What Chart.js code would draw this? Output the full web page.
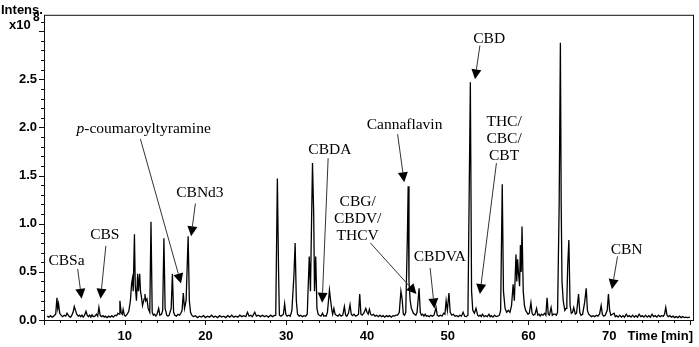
<!DOCTYPE html>
<html>
<head>
<meta charset="utf-8">
<script src="https://cdn.jsdelivr.net/npm/chart.js@4.4.1/dist/chart.umd.min.js"></script>
<style>
  body { margin: 0; background: #fff; }
  canvas { display: block; }
</style>
</head>
<body>
<canvas id="chart" width="699" height="347"></canvas>
<script>
// retention time [min]
const times = [
  0.4, 0.6, 0.8, 1.0, 1.2, 1.45, 1.6, 1.7, 1.8, 1.95,
  2.1, 2.3, 2.5, 2.7, 2.85, 3.0, 3.15, 3.3, 3.45, 3.6,
  3.75, 3.9, 4.05, 4.25, 4.4, 4.55, 4.7, 4.85, 5.0, 5.2,
  5.35, 5.5, 5.65, 5.8, 5.95, 6.1, 6.3, 6.5, 6.65, 6.8,
  6.95, 7.1, 7.3, 7.45, 7.6, 7.8, 8.0, 8.2, 8.4, 8.6,
  8.8, 9.0, 9.15, 9.3, 9.4, 9.55, 9.7, 9.8, 9.95, 10.1,
  10.3, 10.5, 10.7, 10.85, 10.95, 11.05, 11.2, 11.3, 11.45, 11.6,
  11.7, 11.85, 11.95, 12.05, 12.2, 12.4, 12.5, 12.6, 12.75, 12.9,
  13.1, 13.25, 13.4, 13.55, 13.7, 13.85, 14.0, 14.2, 14.35, 14.55,
  14.7, 14.85, 15.0, 15.2, 15.35, 15.5, 15.75, 15.9, 16.05, 16.2,
  16.4, 16.6, 16.8, 16.95, 17.1, 17.25, 17.4, 17.6, 17.85, 18.0,
  18.15, 18.3, 18.5, 18.75, 19.0, 19.25, 19.5, 19.75, 20.0, 20.25,
  20.5, 20.75, 21.0, 21.25, 21.5, 21.75, 22.0, 22.25, 22.5, 22.75,
  23.0, 23.25, 23.5, 23.75, 24.0, 24.25, 24.5, 24.75, 25.0, 25.2,
  25.4, 25.6, 25.8, 26.1, 26.3, 26.55, 26.8, 27.05, 27.3, 27.55,
  27.8, 28.05, 28.3, 28.5, 28.7, 28.9, 29.05, 29.15, 29.35, 29.5,
  29.65, 29.8, 29.95, 30.1, 30.3, 30.5, 30.7, 30.95, 31.1, 31.25,
  31.4, 31.6, 31.8, 32.0, 32.2, 32.4, 32.6, 32.85, 33.0, 33.25,
  33.4, 33.5, 33.65, 33.8, 33.95, 34.1, 34.3, 34.5, 34.65, 34.8,
  34.95, 35.1, 35.35, 35.5, 35.65, 35.75, 35.9, 36.05, 36.2, 36.4,
  36.6, 36.8, 37.0, 37.2, 37.35, 37.5, 37.7, 37.9, 38.05, 38.2,
  38.4, 38.6, 38.8, 38.95, 39.1, 39.25, 39.4, 39.6, 39.85, 40.0,
  40.15, 40.3, 40.45, 40.6, 40.8, 41.0, 41.2, 41.4, 41.6, 41.8,
  42.0, 42.2, 42.4, 42.6, 42.8, 43.0, 43.2, 43.4, 43.6, 43.8,
  44.0, 44.2, 44.35, 44.5, 44.65, 44.8, 45.0, 45.1, 45.2, 45.35,
  45.5, 45.6, 45.75, 45.9, 46.05, 46.2, 46.45, 46.6, 46.75, 46.9,
  47.05, 47.2, 47.35, 47.5, 47.7, 47.9, 48.1, 48.3, 48.55, 48.7,
  48.9, 49.1, 49.3, 49.5, 49.65, 49.8, 49.95, 50.15, 50.3, 50.5,
  50.7, 50.9, 51.1, 51.3, 51.5, 51.7, 51.9, 52.1, 52.3, 52.5,
  52.65, 52.8, 52.95, 53.1, 53.3, 53.5, 53.7, 53.85, 54.0, 54.15,
  54.3, 54.5, 54.7, 54.9, 55.1, 55.25, 55.4, 55.6, 55.8, 56.0,
  56.2, 56.4, 56.55, 56.75, 56.9, 57.1, 57.3, 57.5, 57.7, 57.9,
  58.1, 58.25, 58.45, 58.55, 58.65, 58.75, 58.9, 59.0, 59.1, 59.2,
  59.35, 59.5, 59.65, 59.8, 59.95, 60.1, 60.3, 60.45, 60.6, 60.8,
  61.0, 61.15, 61.3, 61.45, 61.6, 61.8, 62.0, 62.15, 62.3, 62.45,
  62.6, 62.8, 62.95, 63.1, 63.3, 63.45, 63.6, 63.8, 63.95, 64.05,
  64.15, 64.3, 64.5, 64.65, 64.75, 64.85, 65.0, 65.15, 65.3, 65.45,
  65.6, 65.8, 65.95, 66.05, 66.2, 66.35, 66.5, 66.7, 66.95, 67.15,
  67.3, 67.45, 67.6, 67.8, 68.0, 68.2, 68.4, 68.6, 68.8, 69.0,
  69.15, 69.3, 69.5, 69.75, 69.9, 70.05, 70.2, 70.4, 70.6, 70.75,
  70.9, 71.1, 71.3, 71.5, 71.7, 71.9, 72.1, 72.3, 72.5, 72.7,
  72.9, 73.1, 73.3, 73.5, 73.7, 73.9, 74.1, 74.3, 74.5, 74.7,
  74.9, 75.1, 75.3, 75.5, 75.7, 75.9, 76.1, 76.3, 76.5, 76.7,
  76.85, 77.0, 77.15, 77.3, 77.5, 77.7, 77.9, 78.1, 78.3, 78.5,
  78.7, 78.9, 79.1, 79.3, 79.5, 79.7, 80.0
];

// intensity [x10^8]
const intens = [
  0.04, 0.03, 0.045, 0.03, 0.04, 0.06, 0.23, 0.12, 0.17, 0.07,
  0.05, 0.035, 0.05, 0.04, 0.07, 0.05, 0.035, 0.03, 0.05, 0.08,
  0.14, 0.10, 0.06, 0.04, 0.05, 0.035, 0.05, 0.03, 0.045, 0.09,
  0.05, 0.035, 0.05, 0.03, 0.055, 0.035, 0.04, 0.06, 0.04, 0.13,
  0.05, 0.035, 0.045, 0.03, 0.04, 0.025, 0.04, 0.03, 0.045, 0.03,
  0.05, 0.045, 0.07, 0.06, 0.20, 0.08, 0.06, 0.11, 0.05, 0.04,
  0.06, 0.09, 0.20, 0.38, 0.43, 0.30, 0.89, 0.36, 0.20, 0.48,
  0.30, 0.48, 0.30, 0.25, 0.15, 0.22, 0.27, 0.20, 0.22, 0.12,
  0.08, 1.02, 0.08, 0.05, 0.06, 0.04, 0.06, 0.12, 0.05, 0.06,
  0.10, 0.85, 0.12, 0.05, 0.04, 0.05, 0.12, 0.48, 0.08, 0.05,
  0.04, 0.06, 0.05, 0.07, 0.10, 0.28, 0.12, 0.20, 0.87, 0.20,
  0.08, 0.05, 0.035, 0.045, 0.025, 0.04, 0.03, 0.045, 0.025, 0.04,
  0.03, 0.05, 0.03, 0.04, 0.025, 0.045, 0.03, 0.04, 0.025, 0.045,
  0.03, 0.05, 0.03, 0.04, 0.03, 0.05, 0.035, 0.045, 0.035, 0.08,
  0.04, 0.05, 0.035, 0.08, 0.04, 0.05, 0.035, 0.05, 0.035, 0.045,
  0.03, 0.05, 0.035, 0.045, 0.05, 1.47, 0.50, 0.05, 0.04, 0.05,
  0.06, 0.17, 0.06, 0.04, 0.05, 0.04, 0.10, 0.46, 0.80, 0.20,
  0.06, 0.04, 0.05, 0.035, 0.045, 0.04, 0.06, 0.66, 0.30, 1.63,
  1.10, 0.30, 0.66, 0.12, 0.06, 0.05, 0.04, 0.07, 0.04, 0.045,
  0.04, 0.08, 0.31, 0.20, 0.10, 0.06, 0.12, 0.06, 0.05, 0.04,
  0.06, 0.04, 0.05, 0.14, 0.05, 0.04, 0.07, 0.16, 0.06, 0.045,
  0.06, 0.04, 0.05, 0.06, 0.27, 0.06, 0.05, 0.07, 0.12, 0.08,
  0.06, 0.11, 0.06, 0.05, 0.06, 0.04, 0.05, 0.035, 0.05, 0.035,
  0.045, 0.03, 0.045, 0.035, 0.045, 0.03, 0.045, 0.04, 0.05, 0.05,
  0.08, 0.30, 0.22, 0.06, 0.05, 0.08, 0.86, 1.39, 0.40, 0.20,
  0.12, 0.10, 0.07, 0.06, 0.05, 0.08, 0.33, 0.08, 0.05, 0.06,
  0.04, 0.06, 0.04, 0.045, 0.035, 0.05, 0.04, 0.05, 0.13, 0.05,
  0.04, 0.05, 0.04, 0.07, 0.06, 0.20, 0.10, 0.28, 0.08, 0.05,
  0.06, 0.04, 0.045, 0.035, 0.05, 0.04, 0.08, 0.04, 0.035, 0.05,
  1.27, 2.47, 0.30, 0.10, 0.07, 0.12, 0.05, 0.04, 0.05, 0.035,
  0.06, 0.035, 0.045, 0.035, 0.06, 0.035, 0.045, 0.03, 0.05, 0.035,
  0.04, 0.05, 0.10, 1.41, 0.30, 0.12, 0.08, 0.10, 0.08, 0.15,
  0.37, 0.20, 0.68, 0.40, 0.63, 0.50, 0.35, 0.78, 0.50, 0.97,
  0.30, 0.15, 0.10, 0.08, 0.06, 0.07, 0.18, 0.07, 0.05, 0.06,
  0.12, 0.05, 0.06, 0.04, 0.06, 0.05, 0.07, 0.05, 0.23, 0.06,
  0.05, 0.13, 0.05, 0.06, 0.06, 0.05, 0.08, 1.20, 2.88, 1.20,
  0.40, 0.20, 0.10, 0.12, 0.20, 0.55, 0.83, 0.15, 0.07, 0.08,
  0.13, 0.06, 0.07, 0.15, 0.27, 0.08, 0.05, 0.06, 0.18, 0.33,
  0.10, 0.06, 0.05, 0.035, 0.045, 0.035, 0.05, 0.04, 0.06, 0.15,
  0.06, 0.04, 0.05, 0.10, 0.27, 0.10, 0.05, 0.06, 0.07, 0.035,
  0.045, 0.03, 0.05, 0.03, 0.045, 0.03, 0.06, 0.035, 0.045, 0.03,
  0.05, 0.03, 0.045, 0.03, 0.06, 0.035, 0.045, 0.03, 0.05, 0.03,
  0.045, 0.03, 0.06, 0.035, 0.045, 0.03, 0.05, 0.035, 0.045, 0.04,
  0.06, 0.13, 0.05, 0.035, 0.045, 0.03, 0.04, 0.025, 0.035, 0.025,
  0.04, 0.025, 0.035, 0.025, 0.03, 0.025, 0.03
];

const xTickLabels = ['10', '20', '30', '40', '50', '60', '70'];
const yTickLabels = ['0.0', '0.5', '1.0', '1.5', '2.0', '2.5'];

// compound labels: text center (first line), arrow start and arrow tip, in time / intensity units
const notes = [
  { text: ['CBSa'], at: [2.79, 0.61], from: [4.17, 0.53], to: [4.66, 0.22] },
  { text: ['CBS'], at: [7.53, 0.88], from: [7.66, 0.77], to: [7.0, 0.22] },
  { text: ['p-coumaroyltyramine'], italicP: true, at: [12.34, 1.98], from: [11.94, 1.88], to: [16.97, 0.38] },
  { text: ['CBNd3'], at: [19.31, 1.32], from: [18.75, 1.21], to: [18.22, 0.87] },
  { text: ['CBDA'], at: [35.4, 1.77], from: [35.19, 1.68], to: [34.45, 0.18] },
  { text: ['CBG/', 'CBDV/', 'THCV'], at: [38.85, 1.23], from: [40.42, 0.80], to: [46.13, 0.27] },
  { text: ['Cannaflavin'], at: [44.65, 2.03], from: [43.79, 1.93], to: [44.61, 1.43] },
  { text: ['CBDVA'], at: [49.03, 0.66], from: [47.82, 0.54], to: [48.35, 0.12] },
  { text: ['CBD'], at: [55.13, 2.92], from: [53.98, 2.85], to: [53.37, 2.5] },
  { text: ['THC/', 'CBC/', 'CBT'], at: [56.98, 2.06], from: [56.03, 1.63], to: [53.98, 0.27] },
  { text: ['CBN'], at: [72.15, 0.73], from: [71.03, 0.66], to: [70.33, 0.32] }
];

const sans = '"Liberation Sans", Arial, sans-serif';
const serif = '"Liberation Serif", "Times New Roman", serif';

function arrow(ctx, x1, y1, x2, y2) {
  const a = Math.atan2(y2 - y1, x2 - x1);
  const len = 10, half = 5;
  const bx = x2 - len * Math.cos(a), by = y2 - len * Math.sin(a);
  ctx.beginPath();
  ctx.moveTo(x1, y1);
  ctx.lineTo(bx, by);
  ctx.stroke();
  ctx.beginPath();
  ctx.moveTo(x2, y2);
  ctx.lineTo(bx + half * Math.sin(a), by - half * Math.cos(a));
  ctx.lineTo(bx - half * Math.sin(a), by + half * Math.cos(a));
  ctx.closePath();
  ctx.fill();
}

const decor = {
  id: 'decor',
  afterDraw(chart) {
    const { ctx, chartArea: a, scales: { x, y } } = chart;
    ctx.save();

    // frame
    ctx.strokeStyle = '#111';
    ctx.lineWidth = 1;
    ctx.strokeRect(a.left + 0.5, a.top + 0.5, a.right - a.left - 1, a.bottom - a.top);

    // tick marks (minor 0.1 / 2 min, major 0.5 / 10 min)
    ctx.beginPath();
    for (let k = 0; k <= 31; k++) {
      const py = Math.round(y.getPixelForValue(k / 10)) + 0.5;
      const l = k % 5 === 0 ? 5 : 3;
      ctx.moveTo(a.left, py);
      ctx.lineTo(a.left - l, py);
    }
    for (let k = 0; k <= 80; k += 2) {
      const px = Math.round(x.getPixelForValue(k)) + 0.5;
      const l = k % 10 === 0 ? 5 : 3;
      ctx.moveTo(px, a.bottom);
      ctx.lineTo(px, a.bottom + l);
    }
    ctx.stroke();

    // axis titles
    ctx.fillStyle = '#000';
    ctx.textBaseline = 'middle';
    ctx.textAlign = 'left';
    ctx.font = 'bold 13px ' + sans;
    ctx.fillText('Intens.', 1, 10);
    ctx.fillText('x10', 9, 25);
    ctx.font = 'bold 12px ' + sans;
    ctx.fillText('8', 33, 18);
    ctx.font = 'bold 13px ' + sans;
    ctx.textAlign = 'right';
    ctx.fillText('Time [min]', 693, 336);

    // compound labels
    ctx.strokeStyle = '#333';
    ctx.fillStyle = '#000';
    notes.forEach(n => {
      const cx = x.getPixelForValue(n.at[0]);
      const cy = y.getPixelForValue(n.at[1]);
      n.text.forEach((line, i) => {
        const ly = cy + i * 17;
        if (n.italicP) {
          const rest = line.slice(1);
          ctx.font = 'italic 15.5px ' + serif;
          const wp = ctx.measureText('p').width;
          ctx.font = '15.5px ' + serif;
          const wr = ctx.measureText(rest).width;
          const x0 = cx - (wp + wr) / 2;
          ctx.textAlign = 'left';
          ctx.font = 'italic 15.5px ' + serif;
          ctx.fillText('p', x0, ly);
          ctx.font = '15.5px ' + serif;
          ctx.fillText(rest, x0 + wp, ly);
        } else {
          ctx.font = '15.5px ' + serif;
          ctx.textAlign = 'center';
          ctx.fillText(line, cx, ly);
        }
      });
      ctx.lineWidth = 1;
      arrow(ctx,
        x.getPixelForValue(n.from[0]), y.getPixelForValue(n.from[1]),
        x.getPixelForValue(n.to[0]), y.getPixelForValue(n.to[1]));
    });

    ctx.restore();
  }
};

new Chart(document.getElementById('chart'), {
  type: 'line',
  data: {
    datasets: [{
      data: times.map((t, i) => ({ x: t, y: intens[i] })),
      borderColor: '#000',
      borderWidth: 1.3,
      pointRadius: 0,
      tension: 0,
      fill: false
    }]
  },
  options: {
    responsive: false,
    animation: false,
    events: [],
    layout: { padding: { top: 3, right: 2, left: 0, bottom: 0 } },
    plugins: { legend: { display: false }, tooltip: { enabled: false } },
    scales: {
      x: {
        type: 'linear',
        min: 0,
        max: 80.5,
        grid: { display: false, drawTicks: false },
        border: { display: false },
        ticks: {
          stepSize: 10,
          includeBounds: false,
          padding: 9,
          maxRotation: 0,
          autoSkip: false,
          color: '#000',
          font: { family: sans, weight: 'bold', size: 13 },
          callback: v => xTickLabels.find(s => Number(s) === v) || ''
        },
        afterFit: s => { s.height = 27; }
      },
      y: {
        type: 'linear',
        min: 0,
        max: 3.17,
        grid: { display: false, drawTicks: false },
        border: { display: false },
        ticks: {
          stepSize: 0.5,
          includeBounds: false,
          padding: 7,
          color: '#000',
          font: { family: sans, weight: 'bold', size: 13 },
          callback: v => yTickLabels.find(s => Number(s) === v) || ''
        },
        afterFit: s => { s.width = 44; }
      }
    }
  },
  plugins: [decor]
});
</script>
</body>
</html>
